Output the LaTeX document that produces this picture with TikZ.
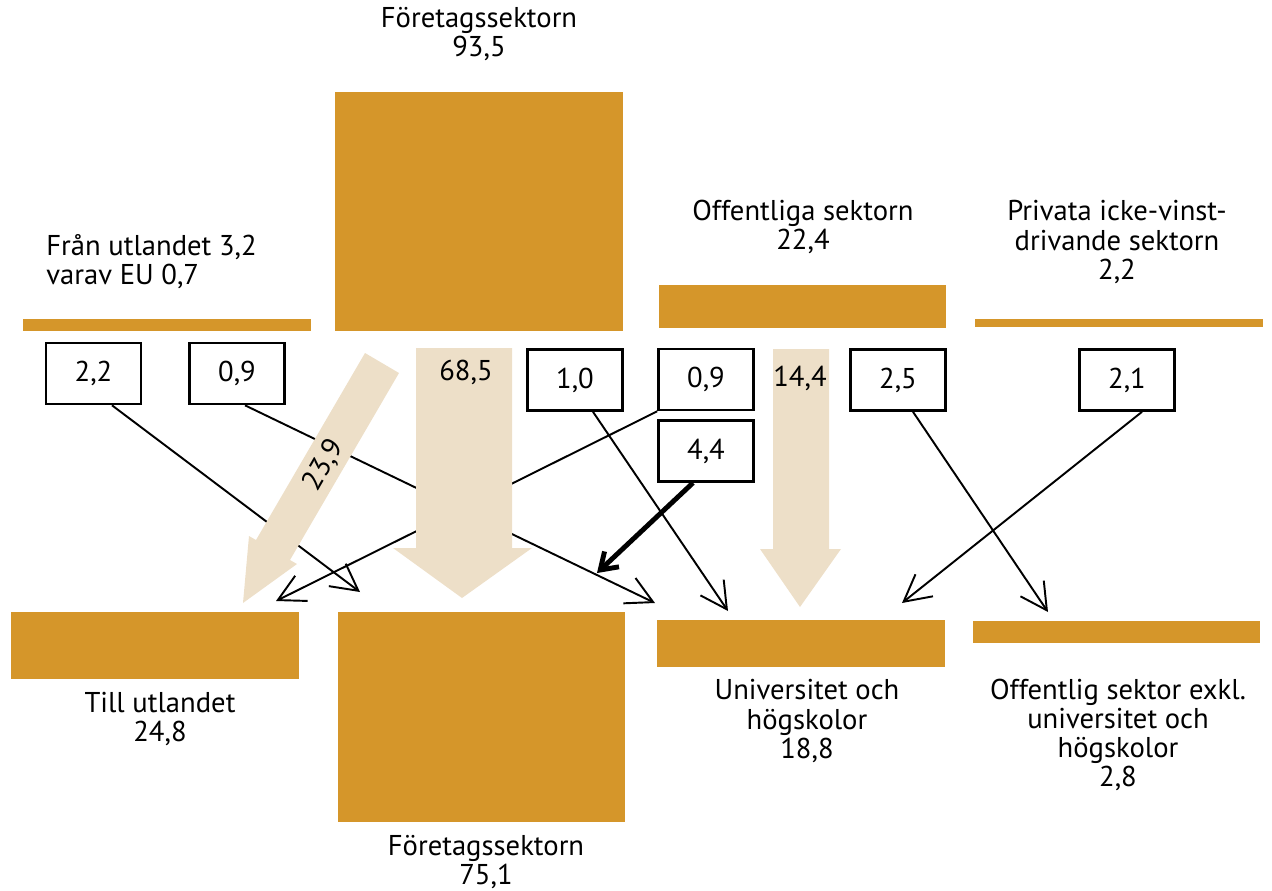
\documentclass[tikz,border=0pt]{standalone}
\usepackage{fontspec}
\setmainfont{PT Sans}
\usetikzlibrary{arrows.meta,fit,calc}
\definecolor{ochre}{HTML}{D5962A}
\definecolor{sand} {HTML}{EDDFC8}
\tikzset{
  every node/.style={font=\fontsize{16.3}{16.6}\selectfont},
  % --- nodes
  bar/.style   = {fill=ochre, draw=none, inner sep=0pt, outer sep=0pt},
  val/.style   = {draw=black, fill=white, line width=1.5pt, minimum width=1.9cm,
                  minimum height=1.22cm, inner sep=0pt},
  lbl/.style   = {align=center, inner sep=0pt},
  % --- edges
  e/.style     = {line width=1.1pt, -{Straight Barb[length=15pt,width=16pt]}},
  ebold/.style = {line width=2.8pt, -{Straight Barb[length=9pt,width=12pt]}},
  flow/.style  = {fill=sand, draw=none},
}

\begin{document}
\begin{tikzpicture}[x=0.02cm,y=-0.02cm]
  \useasboundingbox (0,0) rectangle (1272,890);

  % sources
  \node[bar, fit={(23,319) (311,331)}]  (srcabroad) {};
  \node[bar, fit={(335,92) (623,331)}]  (srcfirms) {};
  \node[bar, fit={(659,285) (946,328)}] (srcpublic) {};
  \node[bar, fit={(975,319) (1263,327)}] (srcnonprofit) {};
  % performers
  \node[bar, fit={(11,612) (299,679)}]   (toabroad) {};
  \node[bar, fit={(338,612) (625,822)}]  (tofirms) {};
  \node[bar, fit={(657,620) (945,667)}]  (touni) {};
  \node[bar, fit={(973,621) (1260,643)}] (topublic) {};

  \node[lbl] (lfirms) at (479,34) {Företagssektorn\\93,5};
  \node[lbl, align=left, anchor=west] (labroad) at (46,262) {Från utlandet 3,2\\varav EU 0,7};
  \node[lbl] (lpublic) at (803,227) {Offentliga sektorn\\22,4};
  \node[lbl] (lnonprofit) at (1117,242) {Privata icke-vinst-\\drivande sektorn\\2,2};
  \node[lbl] (ltoabroad) at (160,719) {Till utlandet\\24,8};
  \node[lbl] (ltofirms) at (486,862) {Företagssektorn\\75,1};
  \node[lbl] (ltouni) at (807,721) {Universitet och\\högskolor\\18,8};
  \node[lbl] (ltopublic) at (1118,735) {Offentlig sektor exkl.\\universitet och\\högskolor\\2,8};

  % small flows
  \node[val] (v22) at (93.5,373.5) {2,2};
  \node[val] (v09a) at (237,373.5) {0,9};
  \node[val] (v10) at (575,380) {1,0};
  \node[val] (v09b) at (706,379.5) {0,9};
  \node[val] (v44) at (706,451) {4,4};
  \node[val] (v25) at (898,380) {2,5};
  \node[val] (v21) at (1127,380) {2,1};

  \coordinate (t22) at (360,592);
  \coordinate (t09a) at (655,603);
  \coordinate (t10) at (728,611);
  \coordinate (t09b) at (276,601);
  \coordinate (t44) at (597,573);
  \coordinate (t25) at (1048,612);
  \coordinate (t21) at (902,603);

  \draw[e] ([xshift=0.37cm]v22.south) -- (t22);
  \draw[e] ([xshift=0.16cm]v09a.south) -- (t09a);
  \draw[e] ([xshift=0.36cm]v10.south) -- (t10);
  \draw[e] (v09b.south west) -- (t09b);
  \draw[ebold] ([xshift=-0.26cm]v44.south) -- (t44);
  \draw[e] ([xshift=0.3cm]v25.south) -- (t25);
  \draw[e] ([xshift=0.3cm]v21.south) -- (t21);

  % large flows
  \fill[flow] (365,353) -- (399,373) -- (290,560) -- (297,564) -- (243,603)
              -- (249,536) -- (256,540) -- cycle;
  \fill[flow] (416,348) -- (512,348) -- (512,548) -- (532,548) -- (462,598)
              -- (393,548) -- (416,548) -- cycle;
  \fill[flow] (773,349) -- (829,349) -- (829,549) -- (841,549) -- (800,607)
              -- (760,549) -- (773,549) -- cycle;
  \node[lbl, rotate=60] (f239) at (324,465) {23,9};
  \node[lbl] (f685) at (466,372) {68,5};
  \node[lbl] (f144) at (800,378) {14,4};
\end{tikzpicture}
\end{document}
